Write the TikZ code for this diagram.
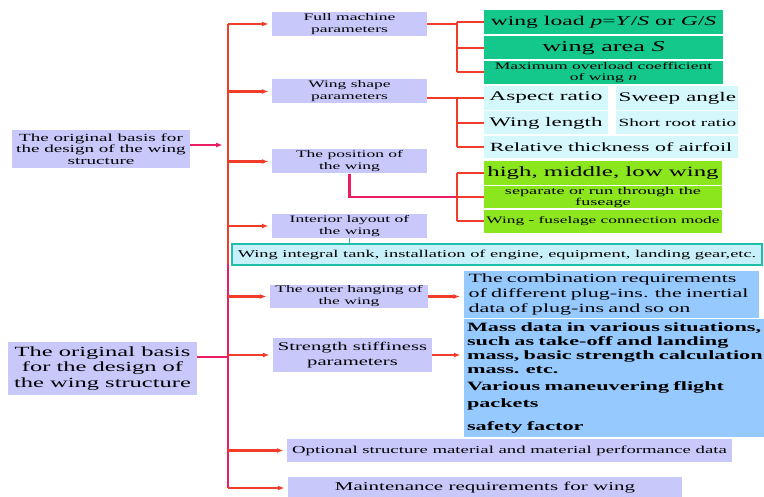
\documentclass[tikz,border=0pt]{standalone}
\usepackage{fontspec}
\setmainfont[FakeStretch=1.75]{Liberation Serif}
\usetikzlibrary{positioning,calc,arrows.meta}
\definecolor{lav}{RGB}{200,200,250}
\definecolor{tgreen}{RGB}{20,200,140}
\definecolor{lcyan}{RGB}{212,248,252}
\definecolor{lime}{RGB}{140,230,30}
\definecolor{lblue}{RGB}{150,202,255}
\definecolor{tankfill}{RGB}{200,240,250}
\definecolor{tankline}{RGB}{30,190,170}
\definecolor{busred}{RGB}{240,60,40}
\definecolor{buspink}{RGB}{235,30,100}
\newcommand{\fs}[2]{\fontsize{#1}{#2}\selectfont}

\begin{document}
\begin{tikzpicture}[x=1pt, y=-1pt]
	% node styles
	\tikzstyle{par} = [fill=lav, inner sep=0pt, align=center, minimum width=155pt, minimum height=24pt, font=\fs{10}{12}]
	\tikzstyle{gbox} = [fill=tgreen, inner sep=0pt, align=center, minimum width=239pt, minimum height=23pt]
	\tikzstyle{cbox} = [fill=lcyan, inner sep=0pt, align=center, minimum height=24pt]
	\tikzstyle{lbox} = [fill=lime, inner sep=0pt, align=center, minimum width=238pt, minimum height=23pt]
	\tikzstyle{bbox} = [fill=lblue, inner ysep=0pt, align=left]
	\tikzstyle{rline} = [draw=busred, line width=2.1pt]
	\tikzstyle{pline} = [draw=buspink, line width=2.1pt]
	\tikzstyle{rarrow} = [rline, -{Latex[length=7pt,width=5pt]}, shorten >=3pt]
	\tikzstyle{parrow} = [pline, -{Latex[length=7pt,width=5pt]}, shorten >=5pt]

	\useasboundingbox (0,0) rectangle (764,497);

	% left boxes
	\node [par, minimum width=178pt, minimum height=38pt, font=\fs{10.9}{11.3}] (basisA) at (101,149) {The original basis for\\the design of the wing\\structure};
	\node [par, minimum width=189pt, minimum height=53pt, font=\fs{14}{15.5}] (basisB) at (102.5,368.5) {The original basis\\for the design of\\the wing structure};

	% second level
	\node [par] (full) at (349.5,24) {Full machine\\parameters};
	\node [par] (shape) at (349.5,91.5) {Wing shape\\parameters};
	\node [par] (pos) at (349.5,161.5) {The position of\\the wing};
	\node [par] (inter) at (349.5,226) {Interior layout of\\the wing};
	\node [par, minimum width=158pt, minimum height=23pt] (outer) at (349,296.5) {The outer hanging of\\the wing};
	\node [par, minimum width=159pt, minimum height=34pt, font=\fs{11.8}{15}] (stren) at (352.5,355) {Strength stiffiness\\parameters};
	\node [par, minimum width=445pt, minimum height=23pt, font=\fs{10.7}{12}] (optl) at (509.5,450.5) {Optional structure material and material performance data};
	\node [par, minimum width=394pt, minimum height=22pt, font=\fs{12}{14}] (maint) at (485,488) {Maintenance requirements for wing};

	% full machine parameters
	\node [gbox, minimum height=24pt, font=\fs{13.5}{14}] (load) at (603.5,22) {wing load \textit{p}=\textit{Y}/\textit{S} or \textit{G}/\textit{S}};
	\node [gbox, below=2pt of load, font=\fs{15}{16}] (area) {wing area \textit{S}};
	\node [gbox, below=1pt of area, font=\fs{10}{11}] (maxo) {Maximum overload coefficient\\of wing \textit{n}};

	% wing shape parameters
	\node [cbox, minimum width=124pt, font=\fs{13.3}{14}] (aspect) at (546,98) {Aspect ratio};
	\node [cbox, minimum width=122pt, right=8pt of aspect, font=\fs{13.2}{14}] (sweep) {Sweep angle};
	\node [cbox, minimum width=124pt, minimum height=23pt, below=1pt of aspect, font=\fs{13.1}{14}] (length) {Wing length};
	\node [cbox, minimum width=122pt, minimum height=23pt, below=1pt of sweep, font=\fs{11}{12}] (sroot) {Short root ratio};
	\node [cbox, minimum width=254pt, minimum height=22pt, font=\fs{12.5}{13}] (thick) at (611,147) {Relative thickness of airfoil};

	% position of the wing
	\node [lbox, minimum height=24pt, font=\fs{14.2}{15}] (high) at (603,173) {high, middle, low wing};
	\node [lbox, minimum height=22pt, below=1pt of high, font=\fs{10.4}{11}] (sep) {separate or run through the\\fuseage};
	\node [lbox, below=1pt of sep, font=\fs{9.9}{11}] (conn) {Wing - fuselage connection mode};

	% interior layout
	\node [draw=tankline, line width=1.5pt, fill=tankfill, inner sep=0pt, minimum width=530pt, minimum height=21pt, font=\fs{10.5}{11}] (tank) at (497,254.5) {Wing integral tank, installation of engine, equipment, landing gear,etc.};

	% plug-ins and strength
	\node [bbox, inner xsep=5pt, text width=285pt, minimum height=47pt, font=\fs{12.6}{15}] (comb) at (611,294.5) {The combination requirements\\of different plug-ins. the inertial\\data of plug-ins and so on};
	\node [bbox, inner xsep=3pt, text width=320pt, minimum height=118pt, font=\fs{12.7}{14}\bfseries] (mass) at (627,378) {Mass data in various situations,\\such as take-off and landing\\mass, basic strength calculation\\mass. etc.\\[3pt]Various maneuvering flight\\[3pt]packets\\[9pt]safety factor};

	% main bus
	\coordinate (btop) at (228,24);
	\coordinate (bmid) at (228,264);
	\coordinate (bend) at (btop|-maint.west);
	\draw [pline] (bmid) -- (bend);
	\draw [rline] (btop) -- (bmid);

	\draw [rarrow] (btop) -- (full.west);
	\draw [rarrow] (btop|-shape.west) -- (shape.west);
	\draw [rarrow] (btop|-pos.west) -- (pos.west);
	\draw [rarrow] (btop|-inter.west) -- (inter.west);
	\draw [rarrow] (btop|-outer.west) -- (outer.west);
	\draw [rarrow] (btop|-stren.west) -- (stren.west);
	\draw [rarrow] (btop|-optl.west) -- (optl.west);
	\draw [rarrow] (bend) -- (maint.west);

	\coordinate (ja) at ([yshift=4pt]basisA.east);
	\coordinate (jb) at ([yshift=11.5pt]basisB.east);
	\draw [parrow] (ja) -- (btop|-ja);
	\draw [pline] (jb) -- (btop|-jb);

	% right branches
	\coordinate (jf) at (457,24);
	\draw [rline] (full.east) -- (jf);
	\draw [rline] (jf|-load.west) -- (jf|-maxo.west);
	\draw [rline] (jf|-load.west) -- (load.west);
	\draw [rline] (jf|-area.west) -- (area.west);
	\draw [rline] (jf|-maxo.west) -- (maxo.west);

	\draw [rline] (shape.east|-aspect.west) -- (jf|-aspect.west);
	\draw [rline] (jf|-aspect.west) -- (jf|-thick.west);
	\draw [rline] (jf|-aspect.west) -- (aspect.west);
	\draw [rline] (jf|-length.west) -- (length.west);
	\draw [rline] (jf|-thick.west) -- (thick.west);

	\draw [pline] (pos.south) |- (jf|-sep.west);
	\draw [rline] (jf|-high.west) -- (jf|-conn.west);
	\draw [rline] (jf|-high.west) -- (high.west);
	\draw [rline] (jf|-sep.west) -- (sep.west);
	\draw [rline] (jf|-conn.west) -- (conn.west);

	\draw [draw=tankline, line width=1.5pt] (inter.south) -- (inter.south|-tank.north);

	\draw [rarrow] (outer.east) -- (comb.west|-outer.east);
	\draw [rarrow] (stren.east) -- (mass.west|-stren.east);
\end{tikzpicture}
\end{document}
